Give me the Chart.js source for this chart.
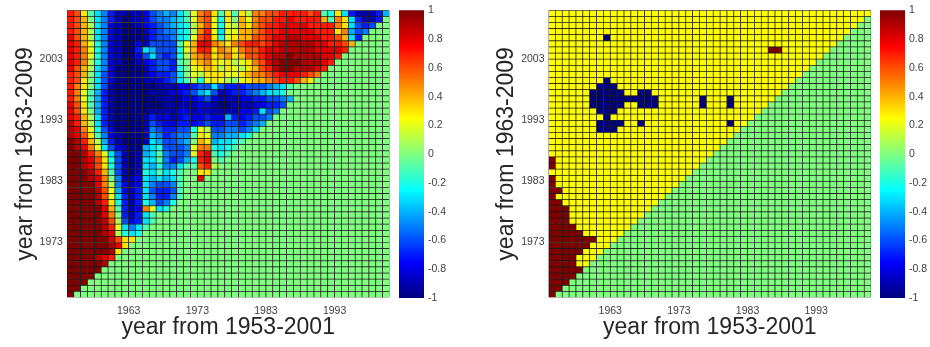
<!DOCTYPE html>
<html>
<head>
<meta charset="utf-8">
<script src="https://cdn.jsdelivr.net/npm/chart.js@4.4.1/dist/chart.umd.min.js"></script>
<style>
  html, body { margin: 0; padding: 0; background: #ffffff; }
  body { width: 930px; height: 347px; position: relative; overflow: hidden; }
  canvas { position: absolute; top: 0; }
</style>
</head>
<body>
<canvas id="corrMap" width="395" height="347" style="left:0px"></canvas>
<canvas id="corrBar" width="55" height="347" style="left:395px"></canvas>
<canvas id="sigMap" width="395" height="347" style="left:481px"></canvas>
<canvas id="sigBar" width="54" height="347" style="left:876px"></canvas>
<script>
// ---- axis text ----
const xTickPos = [9, 19, 29, 39];
const xTickLabels = ['1963', '1973', '1983', '1993'];
const yTickPos = [9, 19, 29, 39];
const yTickLabels = ['1973', '1983', '1993', '2003'];
const xTitle = 'year from 1953-2001';
const yTitle = 'year from 1963-2009';
const colorTicks = [-1, -0.8, -0.6, -0.4, -0.2, 0, 0.2, 0.4, 0.6, 0.8, 1];
const colorTickLabels = ['-1', '-0.8', '-0.6', '-0.4', '-0.2', '0', '0.2', '0.4', '0.6', '0.8', '1'];

// ---- correlation matrix (left panel) ----
// one letter per cell: a = -1.0, b = -0.9, ... k = 0, ... u = +1.0
// rows listed from the top row down, 47 cells each (spaces only group by ten)
const corrLevels = 'abcdefghijklmnopqrstu';
const corrRows = [
  'rqnjhfdbbb bcefgfhjmp qnjnjnlppq qrrrrqrjin hdbbbdg',
  'rqokhfdbab bceffghjmp qminkompqq rrsrrrrojp nhdbbdk',
  'rqolhfcbaa bcdefghilo qmimlonpqr rssssrrrrp nhedekk',
  'rqolhfcbaa abdeffhilp rmhmmoopqr rsssssrrrn pgefkkk',
  'sqolhfcbaa abdeefhimq rnimnooqqr ssttsssrrq ohdkkkk',
  'sromifcbaa cbeeeejmos sponpqrrqr stttttssrr qokkkkk',
  'srpmifcbaa dhgeeeimor rnponpqqrs stttttssss rkkkkkk',
  'srpmifcbaa cehedeilop qnopnoqqrs ttuttttssr kkkkkkk',
  'srplifcbaa bcdeedjkno pnmnlmnpqs tuuutttsrk kkkkkkk',
  'sqolhfcaaa abdeedikmn onlnmlnoqr tuutttsrkk kkkkkkk',
  'rqokhecaaa abcddehkml nnnmmnoppq rsssrqpkkk kkkkkkk',
  'rqnkhecaaa abbcdehjli mnmlkmnoop qrrqonkkkk kkkkkkk',
  'rpnkhebaaa aaabbbccde ehedddeeef ghjkkkkkkk kkkkkkk',
  'rpmjgdbaaa aabbbccdeg hebcddefgh hikkkkkkkk kkkkkkk',
  'rpmjgdbaaa aaabbbbccd ecbbbccdde efgkkkkkkk kkkkkkk',
  'sqnjgdbaaa aaaabbbbbc cbaabbbccd dekkkkkkkk kkkkkkk',
  'sqnkgdbaaa aabbbbccbc cbbbbccdhe fkkkkkkkkk kkkkkkk',
  'srolhdbaaa abdccbcdcc dccgdcdeef kkkkkkkkkk kkkkkkk',
  'trolhdbaaa abedccddcd eddeedefgk kkkkkkkkkk kkkkkkk',
  'tspmiecaaa abfeddeeim leeffefhkk kkkkkkkkkk kkkkkkk',
  'tsqnjfcbaa abgfdeffjn mffgghikkk kkkkkkkkkk kkkkkkk',
  'utrolgdbaa abhgeefgko nghhijkkkk kkkkkkkkkk kkkkkkk',
  'utspmhecba aghieeefmp pihijkkkkk kkkkkkkkkk kkkkkkk',
  'uutrpmheba bghjfeefmr sjijkkkkkk kkkkkkkkkk kkkkkkk',
  'uutsqnieba bhhjfdegir skjkkkkkkk kkkkkkkkkk kkkkkkk',
  'uutsqnieba bhgiffhjjq rlkkkkkkkk kkkkkkkkkk kkkkkkk',
  'uuutrojeba bihjhijkkn nkkkkkkkkk kkkkkkkkkk kkkkkkk',
  'uuutspkfbb chghghjkks kkkkkkkkkk kkkkkkkkkk kkkkkkk',
  'uuuusplfcb chfeefjkkk kkkkkkkkkk kkkkkkkkkk kkkkkkk',
  'uuuutqmgcb dheddejkkk kkkkkkkkkk kkkkkkkkkk kkkkkkk',
  'uuuutqmhdb dhfddfjkkk kkkkkkkkkk kkkkkkkkkk kkkkkkk',
  'uuuutrnidb digefikkkk kkkkkkkkkk kkkkkkkkkk kkkkkkk',
  'uuuuusojdb cpmhikkkkk kkkkkkkkkk kkkkkkkkkk kkkkkkk',
  'uuuuuspkdb dhjkkkkkkk kkkkkkkkkk kkkkkkkkkk kkkkkkk',
  'uuuuutqlec dhjkkkkkkk kkkkkkkkkk kkkkkkkkkk kkkkkkk',
  'uuuuutrmhf hjkkkkkkkk kkkkkkkkkk kkkkkkkkkk kkkkkkk',
  'uuuuutslih ikkkkkkkkk kkkkkkkkkk kkkkkkkkkk kkkkkkk',
  'uuuuuusqnn kkkkkkkkkk kkkkkkkkkk kkkkkkkkkk kkkkkkk',
  'uuuuuutsnk kkkkkkkkkk kkkkkkkkkk kkkkkkkkkk kkkkkkk',
  'uuuuuutnkk kkkkkkkkkk kkkkkkkkkk kkkkkkkkkk kkkkkkk',
  'uuuutsrkkk kkkkkkkkkk kkkkkkkkkk kkkkkkkkkk kkkkkkk',
  'uuuuutkkkk kkkkkkkkkk kkkkkkkkkk kkkkkkkkkk kkkkkkk',
  'uuuuukkkkk kkkkkkkkkk kkkkkkkkkk kkkkkkkkkk kkkkkkk',
  'uuuukkkkkk kkkkkkkkkk kkkkkkkkkk kkkkkkkkkk kkkkkkk',
  'uuukkkkkkk kkkkkkkkkk kkkkkkkkkk kkkkkkkkkk kkkkkkk',
  'uukkkkkkkk kkkkkkkkkk kkkkkkkkkk kkkkkkkkkk kkkkkkk',
  'ukkkkkkkkk kkkkkkkkkk kkkkkkkkkk kkkkkkkkkk kkkkkkk'
];

// ---- significance map (right panel) ----
// b = -1, g = 0, y = 0.25, r = +1; rows from the top down
const sigKey = { b: -1, g: 0, y: 0.25, r: 1 };
const sigRows = [
  'yyyyyyyyyy yyyyyyyyyy yyyyyyyyyy yyyyyyyyyy yyyyyyy',
  'yyyyyyyyyy yyyyyyyyyy yyyyyyyyyy yyyyyyyyyy yyyyyyg',
  'yyyyyyyyyy yyyyyyyyyy yyyyyyyyyy yyyyyyyyyy yyyyygg',
  'yyyyyyyyyy yyyyyyyyyy yyyyyyyyyy yyyyyyyyyy yyyyggg',
  'yyyyyyyyby yyyyyyyyyy yyyyyyyyyy yyyyyyyyyy yyygggg',
  'yyyyyyyyyy yyyyyyyyyy yyyyyyyyyy yyyyyyyyyy yyggggg',
  'yyyyyyyyyy yyyyyyyyyy yyyyyyyyyy yyrryyyyyy ygggggg',
  'yyyyyyyyyy yyyyyyyyyy yyyyyyyyyy yyyyyyyyyy ggggggg',
  'yyyyyyyyyy yyyyyyyyyy yyyyyyyyyy yyyyyyyyyg ggggggg',
  'yyyyyyyyyy yyyyyyyyyy yyyyyyyyyy yyyyyyyygg ggggggg',
  'yyyyyyyyyy yyyyyyyyyy yyyyyyyyyy yyyyyyyggg ggggggg',
  'yyyyyyyyby yyyyyyyyyy yyyyyyyyyy yyyyyygggg ggggggg',
  'yyyyyyybbb yyyyyyyyyy yyyyyyyyyy yyyyyggggg ggggggg',
  'yyyyyybbbb byybbyyyyy yyyyyyyyyy yyyygggggg ggggggg',
  'yyyyyybbbb bbbbbbyyyy yybyyybyyy yyyggggggg ggggggg',
  'yyyyyybbbb byybbbyyyy yybyyybyyy yygggggggg ggggggg',
  'yyyyyyybbb yyyyyyyyyy yyyyyyyyyy yggggggggg ggggggg',
  'yyyyyyyyby yyyyyyyyyy yyyyyyyyyy gggggggggg ggggggg',
  'yyyyyyybbb byybyyyyyy yyyyyybyyg gggggggggg ggggggg',
  'yyyyyyybbb yyyyyyyyyy yyyyyyyygg gggggggggg ggggggg',
  'yyyyyyyyyy yyyyyyyyyy yyyyyyyggg gggggggggg ggggggg',
  'yyyyyyyyyy yyyyyyyyyy yyyyyygggg gggggggggg ggggggg',
  'yyyyyyyyyy yyyyyyyyyy yyyyyggggg gggggggggg ggggggg',
  'yyyyyyyyyy yyyyyyyyyy yyyygggggg gggggggggg ggggggg',
  'ryyyyyyyyy yyyyyyyyyy yyyggggggg gggggggggg ggggggg',
  'ryyyyyyyyy yyyyyyyyyy yygggggggg gggggggggg ggggggg',
  'yyyyyyyyyy yyyyyyyyyy yggggggggg gggggggggg ggggggg',
  'ryyyyyyyyy yyyyyyyyyy gggggggggg gggggggggg ggggggg',
  'ryyyyyyyyy yyyyyyyyyg gggggggggg gggggggggg ggggggg',
  'rryyyyyyyy yyyyyyyygg gggggggggg gggggggggg ggggggg',
  'ryyyyyyyyy yyyyyyyggg gggggggggg gggggggggg ggggggg',
  'rryyyyyyyy yyyyyygggg gggggggggg gggggggggg ggggggg',
  'rrryyyyyyy yyyyyggggg gggggggggg gggggggggg ggggggg',
  'rrryyyyyyy yyyygggggg gggggggggg gggggggggg ggggggg',
  'rrryyyyyyy yyyggggggg gggggggggg gggggggggg ggggggg',
  'rrrryyyyyy yygggggggg gggggggggg gggggggggg ggggggg',
  'rrrrryyyyy yggggggggg gggggggggg gggggggggg ggggggg',
  'rrrrrrryyy gggggggggg gggggggggg gggggggggg ggggggg',
  'rrrrrryyyg gggggggggg gggggggggg gggggggggg ggggggg',
  'rrrrryyygg gggggggggg gggggggggg gggggggggg ggggggg',
  'rrrryyyggg gggggggggg gggggggggg gggggggggg ggggggg',
  'rrrryygggg gggggggggg gggggggggg gggggggggg ggggggg',
  'rrrrrggggg gggggggggg gggggggggg gggggggggg ggggggg',
  'rrrrgggggg gggggggggg gggggggggg gggggggggg ggggggg',
  'rrrggggggg gggggggggg gggggggggg gggggggggg ggggggg',
  'rrgggggggg gggggggggg gggggggggg gggggggggg ggggggg',
  'rggggggggg gggggggggg gggggggggg gggggggggg ggggggg'
];

const corrGrid = corrRows.map(s => [...s.replace(/ /g, '')].map(ch => -1 + corrLevels.indexOf(ch) / 10));
const sigGrid = sigRows.map(s => [...s.replace(/ /g, '')].map(ch => sigKey[ch]));

// ---- styling ----
const FONT = "'Liberation Sans', Arial, Helvetica, sans-serif";
const tickFont = { family: FONT, size: 10.5 };
const titleFont = { family: FONT, size: 23 };
const tickColor = '#404040';
const titleColor = '#262626';

// jet colour map over [-1, 1]
function jet(v) {
  const t = Math.min(1, Math.max(0, (v + 1) / 2));
  const ch = (a, b) => Math.round(255 * Math.min(1, Math.max(0, Math.min(a, b))));
  return 'rgb(' + ch(4 * t - 1.5, 4.5 - 4 * t) + ',' + ch(4 * t - 0.5, 3.5 - 4 * t) + ',' + ch(4 * t + 0.5, 2.5 - 4 * t) + ')';
}

// each row of the grid is one stacked bar series, one unit tall
function heatmap(id, grid, axisWidth, rightPad) {
  const nRows = grid.length;
  const nCols = grid[0].length;
  const datasets = [];
  for (let r = 0; r < nRows; r++) {
    const vals = grid[nRows - 1 - r];
    datasets.push({
      data: vals.map((v, c) => ({ x: c + 0.5, y: 1 })),
      backgroundColor: vals.map(jet),
      borderColor: '#1a1a1a',
      borderWidth: 0.7,
      borderSkipped: false,
      stack: 'cells',
      barPercentage: 1,
      categoryPercentage: 1
    });
  }
  new Chart(document.getElementById(id), {
    type: 'bar',
    data: { datasets },
    options: {
      responsive: false,
      animation: false,
      devicePixelRatio: 1,
      events: [],
      layout: { padding: { left: 0, right: rightPad, top: 10, bottom: 0 } },
      plugins: { legend: { display: false }, tooltip: { enabled: false } },
      scales: {
        x: {
          type: 'linear', min: 0, max: nCols, offset: false,
          grid: { display: false, drawTicks: false, offset: false }, border: { display: false },
          afterBuildTicks: s => { s.ticks = xTickPos.map(v => ({ value: v })); },
          afterFit: s => { s.height = 49.5; },
          ticks: { autoSkip: false, maxRotation: 0, padding: 7, color: tickColor, font: tickFont,
                   callback: (v, i) => xTickLabels[i] },
          title: { display: true, text: xTitle, color: titleColor, font: titleFont,
                   padding: { top: 0, bottom: 6 } }
        },
        y: {
          type: 'linear', min: 0, max: nRows, stacked: true,
          grid: { display: false, drawTicks: false }, border: { display: false },
          afterBuildTicks: s => { s.ticks = yTickPos.map(v => ({ value: v })); },
          afterFit: s => { s.width = axisWidth; },
          ticks: { autoSkip: false, padding: 4, color: tickColor, font: tickFont,
                   callback: (v, i) => yTickLabels[i] },
          title: { display: true, text: yTitle, color: titleColor, font: titleFont,
                   padding: { top: 12, bottom: 0 } }
        }
      }
    }
  });
}

// colour scale: one floating bar from -1 to 1 filled with the jet ramp
function colorbar(id, axisWidth) {
  new Chart(document.getElementById(id), {
    type: 'bar',
    data: {
      labels: [''],
      datasets: [{
        data: [[colorTicks[0], colorTicks[colorTicks.length - 1]]],
        backgroundColor: ctx => {
          const chart = ctx.chart;
          const area = chart.chartArea;
          if (!area) return 'rgba(0,0,0,0)';
          const g = chart.ctx.createLinearGradient(0, area.bottom, 0, area.top);
          for (let i = 0; i <= 64; i++) g.addColorStop(i / 64, jet(-1 + 2 * i / 64));
          return g;
        },
        borderWidth: 0,
        barPercentage: 1,
        categoryPercentage: 1
      }]
    },
    options: {
      responsive: false,
      animation: false,
      devicePixelRatio: 1,
      events: [],
      layout: { padding: { left: 4, right: 0, top: 10, bottom: 49 } },
      plugins: { legend: { display: false }, tooltip: { enabled: false } },
      scales: {
        x: { display: false },
        y: {
          position: 'right', min: -1, max: 1,
          grid: { display: false, drawTicks: false }, border: { display: false },
          afterBuildTicks: s => { s.ticks = colorTicks.map(v => ({ value: v })); },
          afterFit: s => { s.width = axisWidth; },
          ticks: { autoSkip: false, padding: 4, color: tickColor, font: tickFont,
                   callback: (v, i) => colorTickLabels[i] }
        }
      }
    }
  });
}

heatmap('corrMap', corrGrid, 66.9, 5.5);
colorbar('corrBar', 26);
heatmap('sigMap', sigGrid, 67.5, 4.9);
colorbar('sigBar', 25);
</script>
</body>
</html>
